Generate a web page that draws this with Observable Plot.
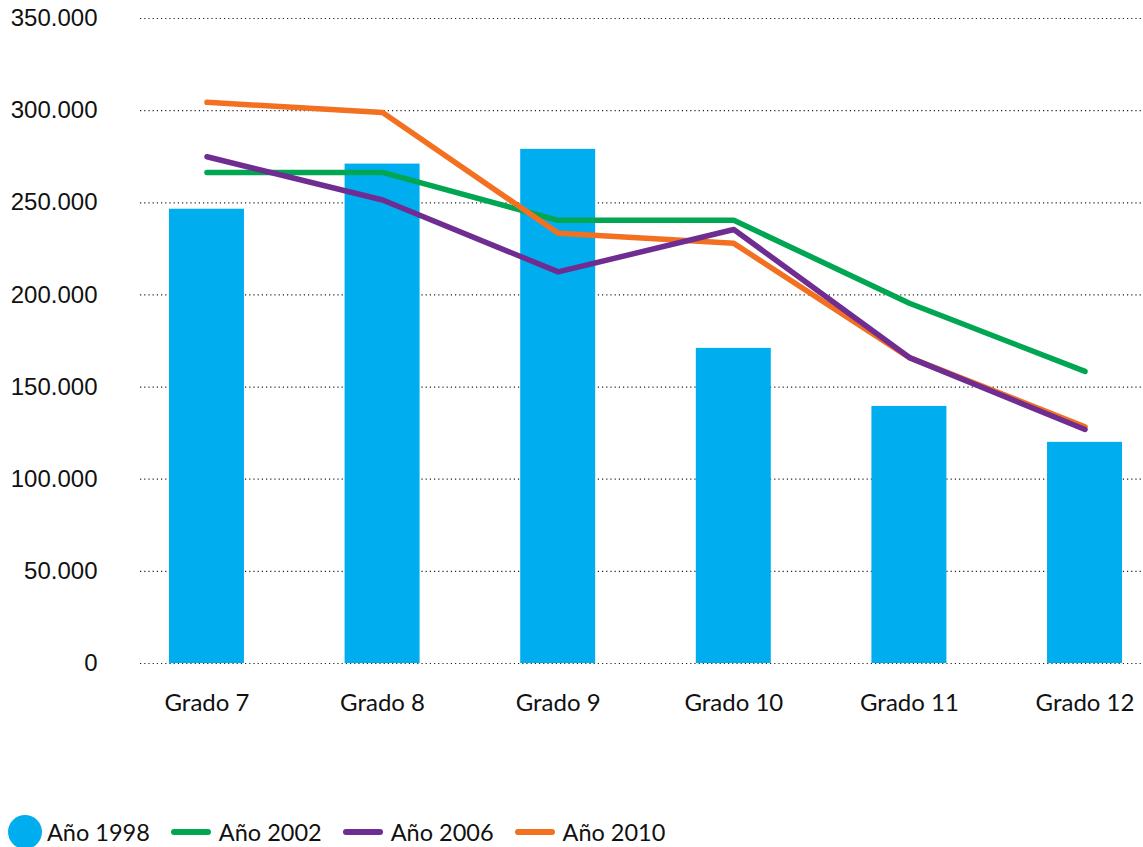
<!DOCTYPE html>
<html>
<head>
<meta charset="utf-8">
<script src="https://cdn.jsdelivr.net/npm/d3@7"></script>
<script src="https://cdn.jsdelivr.net/npm/@observablehq/plot@0.6"></script>
<style>
  body { margin: 0; background: #fff; width: 1143px; height: 847px; overflow: hidden; }
  #legend { display: flex; align-items: center; height: 30px; margin-top: 97px; padding-left: 8px;
    font-family: Lato, "Open Sans", sans-serif; font-size: 23.5px; color: #111; }
  .item { display: flex; align-items: center; margin-right: 21px; }
  .sw-dot { width: 34px; height: 34px; border-radius: 50%; margin-right: 5px; }
  .sw-line { width: 40px; height: 6px; border-radius: 3px; margin-right: 8px; }
</style>
</head>
<body>
<div id="chart"></div>
<div id="legend"></div>
<script>
const grades = ["Grado 7", "Grado 8", "Grado 9", "Grado 10", "Grado 11", "Grado 12"];
const v1998 = [246500, 271000, 279000, 171000, 139500, 120000];
const v2002 = [266500, 266500, 240500, 240500, 195500, 158500];
const v2006 = [275000, 251500, 212500, 235500, 166000, 127000];
const v2010 = [304500, 299000, 233500, 228000, 166000, 128500];
const years = ["Año 1998", "Año 2002", "Año 2006", "Año 2010"];
const colors = ["#00AEEF", "#00A651", "#6F2C91", "#F37021"];
const yTicks = [0, 50000, 100000, 150000, 200000, 250000, 300000, 350000];

const bars = grades.map((g, i) => ({grade: g, value: v1998[i]}));
const lineData = (vals, year) => grades.map((g, i) => ({grade: g, value: vals[i], year}));
const fmt = d => d3.format(",")(d).replace(/,/g, ".");

const chart = Plot.plot({
  width: 1143,
  height: 720,
  marginLeft: 140,
  marginRight: 0,
  marginTop: 18,
  marginBottom: 57,
  x: {domain: grades, range: [140, 1151], round: false, paddingInner: 0.573, paddingOuter: 0.165, label: null},
  y: {domain: [0, 350000], label: null},
  style: {background: "#fff"},
  marks: [
    Plot.gridY(yTicks, {stroke: "#222", strokeOpacity: 1, strokeWidth: 1.2, strokeDasharray: "1.2,3"}),
    Plot.barY(bars, {x: "grade", y: "value", fill: colors[0]}),
    Plot.line(lineData(v2002, years[1]), {x: "grade", y: "value", stroke: colors[1], strokeWidth: 5.5, strokeLinecap: "round", strokeLinejoin: "round"}),
    Plot.line(lineData(v2010, years[3]), {x: "grade", y: "value", stroke: colors[3], strokeWidth: 5.5, strokeLinecap: "round", strokeLinejoin: "round"}),
    Plot.line(lineData(v2006, years[2]), {x: "grade", y: "value", stroke: colors[2], strokeWidth: 5.5, strokeLinecap: "round", strokeLinejoin: "round"}),
    Plot.axisY(yTicks, {tickSize: 0, tickPadding: 43, tickFormat: fmt, label: null,
      fontSize: 24, fontFamily: "Liberation Sans, Arial, sans-serif", fill: "#111"}),
    Plot.axisX({tickSize: 0, tickPadding: 30, label: null,
      fontSize: 24, fontFamily: "Lato, sans-serif", fill: "#111"})
  ]
});
document.getElementById("chart").appendChild(chart);

const legend = document.getElementById("legend");
years.forEach((y, i) => {
  const item = document.createElement("div");
  item.className = "item";
  const sw = document.createElement("div");
  sw.className = i === 0 ? "sw-dot" : "sw-line";
  sw.style.background = colors[i];
  const label = document.createElement("span");
  label.textContent = y;
  item.appendChild(sw);
  item.appendChild(label);
  legend.appendChild(item);
});
</script>
</body>
</html>
